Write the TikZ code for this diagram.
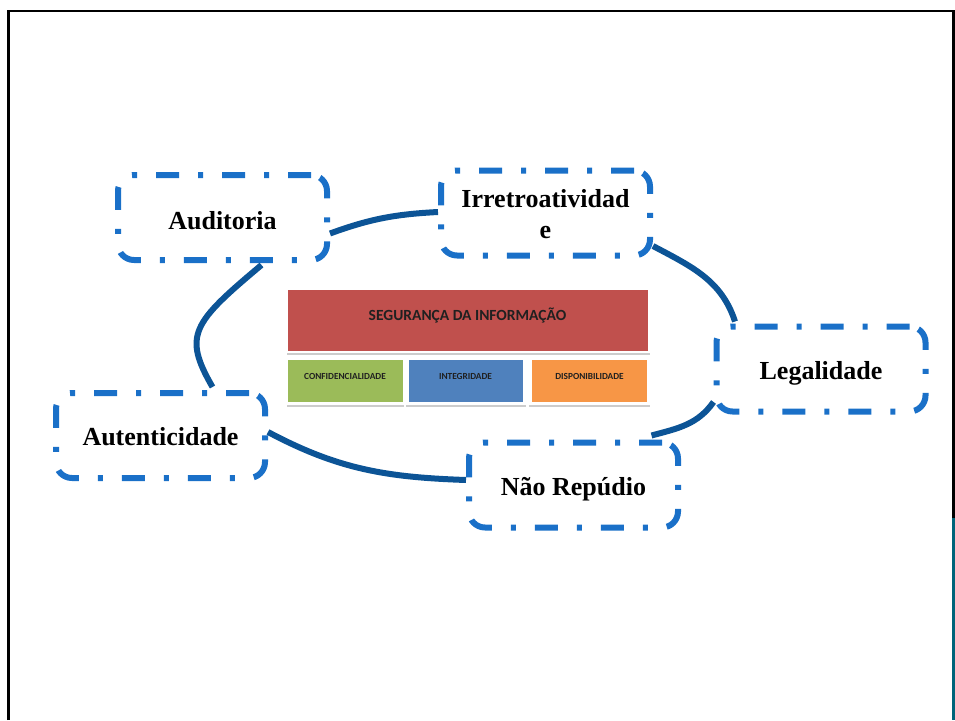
\documentclass[tikz,border=0pt]{standalone}
\usepackage{fontspec}
\setmainfont{Liberation Serif}
\newfontfamily\calib{Carlito}
\definecolor{cblue}{HTML}{1A70C8}
\definecolor{lblue}{HTML}{0C5496}
\definecolor{fteal}{HTML}{00647A}
\definecolor{segred}{HTML}{C0504D}
\definecolor{segreen}{HTML}{9BBB59}
\definecolor{segblue}{HTML}{4F81BD}
\definecolor{segorange}{HTML}{F79646}
\definecolor{txtdark}{HTML}{202020}
\newcommand{\lowertxt}[2]{\raisebox{-#1}[\height][\depth]{#2}}
\tikzset{
  concept/.style={draw=cblue, line width=6pt, dash pattern=on 23pt off 19pt on 5pt off 19pt,
    rounded corners=16pt, minimum width=209pt, minimum height=85pt,
    font=\bfseries\fontsize{26}{31}\selectfont, align=center, inner sep=0pt},
  conn/.style={draw=lblue, line width=6pt},
  pillar/.style={draw=white, line width=0.8pt, minimum height=43pt, inner sep=0pt,
    font=\calib\bfseries\fontsize{9.3}{11}\selectfont, text=txtdark},
  shade/.style={draw=gray!40, line width=1.6pt}
}
\begin{document}
\begin{tikzpicture}[x=1pt,y=1pt]
\useasboundingbox (0,0) rectangle (955,-720);
% frame
\draw[black, line width=2.5pt] (8.5,-720) -- (8.5,-11) -- (953.5,-11) -- (953.5,-518);
\draw[fteal, line width=2.5pt] (953.5,-518) -- (953.5,-720);
% central block
\node[fill=segred, draw=white, line width=0.8pt, minimum width=361pt, minimum height=62pt, inner sep=0pt] (seg) at (467.5,-320) {};
\node[font=\calib\bfseries\fontsize{15.5}{18}\selectfont, text=txtdark] (segt) at (467.5,-315) {SEGURANÇA DA INFORMAÇÃO};
\draw[shade] (287,-354) -- (650,-354);
\node[pillar, fill=segreen, minimum width=116pt] (conf) at (345,-380.5) {};
\node[pillar, fill=segblue, minimum width=115pt] (integ) at (465.5,-380.5) {};
\node[pillar, fill=segorange, minimum width=116pt] (disp) at (589.5,-380.5) {};
\node[pillar, draw=none] at (345,-376) {CONFIDENCIALIDADE};
\node[pillar, draw=none] at (465.5,-376) {INTEGRIDADE};
\node[pillar, draw=none] at (589.5,-376) {DISPONIBILIDADE};
\draw[shade] (287,-406) -- (404,-406);
\draw[shade] (406,-406) -- (526,-406);
\draw[shade] (529,-406) -- (650,-406);
% concept nodes
\node[concept] (aud) at (222.5,-217.5) {\lowertxt{3pt}{Auditoria}};
\node[concept] (irr) at (545.5,-213) {\lowertxt{4pt}{\begin{tabular}{@{}c@{}}Irretroatividad\\e\end{tabular}}};
\node[concept] (leg) at (821,-369) {\lowertxt{4pt}{Legalidade}};
\node[concept] (aut) at (160.5,-435.5) {\lowertxt{1.5pt}{Autenticidade}};
\node[concept] (nao) at (573.5,-485) {\lowertxt{4pt}{Não Repúdio}};
% connectors
\draw[conn] ([yshift=-16pt]aud.east) to[out=20,in=183] ([yshift=1pt]irr.west);
\draw[conn] ([yshift=-33pt]irr.east) to[out=-28,in=108] ([xshift=-86pt,yshift=2pt]leg.north);
\draw[conn] ([yshift=-33pt]leg.west) to[out=235,in=15] ([xshift=78pt,yshift=4pt]nao.north);
\draw[conn] ([yshift=5pt]nao.west) to[out=178,in=-28] ([yshift=3.5pt]aut.east);
\draw[conn] ([xshift=52pt,yshift=3pt]aut.north) to[out=120,in=220,out distance=60pt,in distance=90pt] ([xshift=39pt,yshift=-2pt]aud.south);
\end{tikzpicture}
\end{document}
